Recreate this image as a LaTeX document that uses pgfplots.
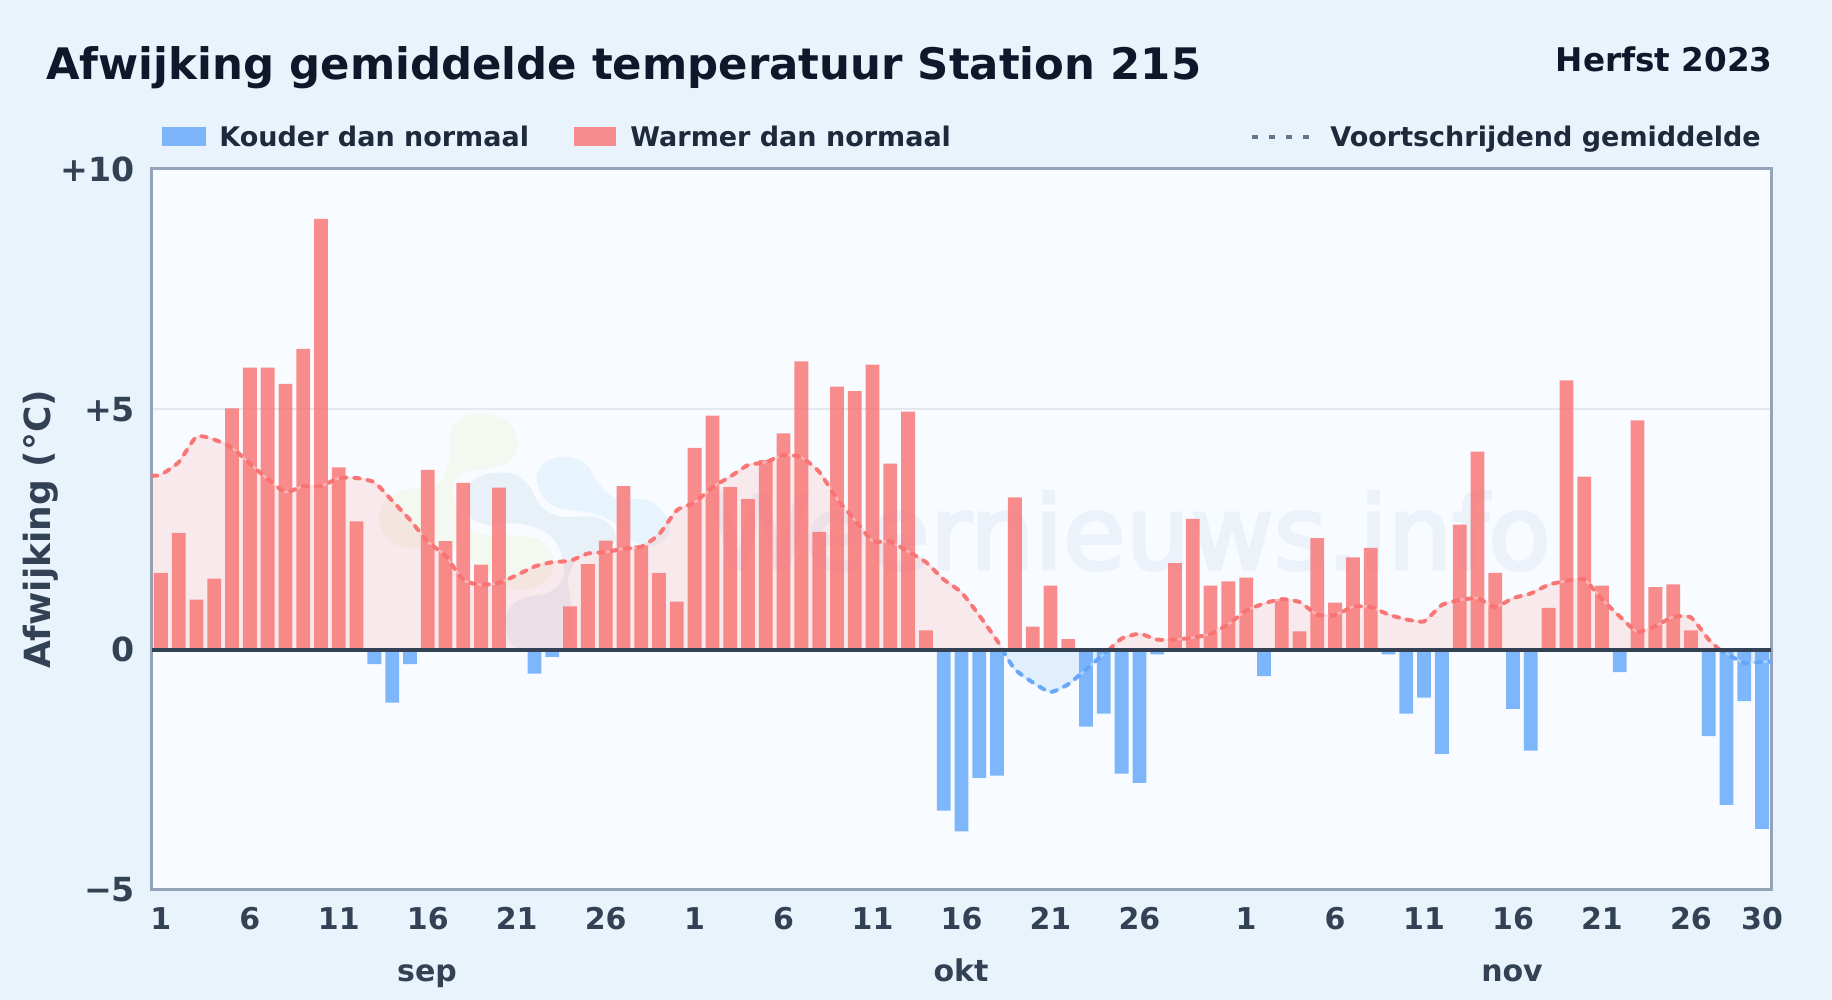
\documentclass[border=0pt]{standalone}
\usepackage{fontspec}
\setmainfont{DejaVu Sans}
\newfontfamily\wmfont[FakeBold=3]{DejaVu Sans}
\usepackage{pgfplots}
\pgfplotsset{compat=1.18}
\usepackage{pgfplotstable}

\definecolor{pagebg}{HTML}{E9F3FC}
\definecolor{plotbg}{HTML}{F8FBFF}
\definecolor{framecol}{HTML}{94A3B8}
\definecolor{gridcol}{HTML}{E2E8F0}
\definecolor{titlecol}{HTML}{0F172A}
\definecolor{legcol}{HTML}{1E293B}
\definecolor{labcol}{HTML}{334155}
\definecolor{dotcol}{HTML}{64748B}
\definecolor{warm}{HTML}{F87171}
\definecolor{cold}{HTML}{60A5FA}
\definecolor{wmcol}{HTML}{EBF2FA}
\definecolor{blobgreen}{HTML}{F3F8F0}
\definecolor{blobgrey}{HTML}{E8F0F8}
\definecolor{blobblue}{HTML}{E8F4FD}

% day index (0 = 1 sep, 30 = 1 okt, 61 = 1 nov), deviation
\pgfplotstableread{
x y
0 1.60
1 2.43
2 1.04
3 1.48
4 5.02
5 5.87
6 5.87
7 5.53
8 6.26
9 8.96
10 3.79
11 2.67
15 3.74
16 2.26
17 3.47
18 1.77
19 3.37
23 0.90
24 1.78
25 2.27
26 3.40
27 2.17
28 1.60
29 1.00
30 4.20
31 4.87
32 3.38
33 3.13
34 3.95
35 4.50
36 6.00
37 2.45
38 5.47
39 5.38
40 5.93
41 3.87
42 4.95
43 0.40
48 3.17
49 0.48
50 1.33
51 0.22
57 1.80
58 2.72
59 1.33
60 1.42
61 1.50
63 1.05
64 0.38
65 2.32
66 0.98
67 1.92
68 2.12
73 2.60
74 4.12
75 1.60
78 0.87
79 5.60
80 3.60
81 1.33
83 4.77
84 1.30
85 1.36
86 0.40
}\warmbars

\pgfplotstableread{
x y
12 -0.30
13 -1.10
14 -0.30
21 -0.50
22 -0.15
44 -3.35
45 -3.78
46 -2.67
47 -2.62
52 -1.60
53 -1.33
54 -2.58
55 -2.77
56 -0.10
62 -0.55
69 -0.10
70 -1.33
71 -1.00
72 -2.17
76 -1.23
77 -2.10
82 -0.47
87 -1.80
88 -3.23
89 -1.07
90 -3.73
}\coldbars

% moving average, split where it crosses zero
\pgfplotstableread{
x y
-0.5 3.62
0 3.64
1 3.90
2 4.43
3 4.37
4 4.20
5 3.87
6 3.55
7 3.28
8 3.40
9 3.40
10 3.57
11 3.57
12 3.48
13 3.10
14 2.70
15 2.25
16 1.95
17 1.45
18 1.35
19 1.39
20 1.55
21 1.73
22 1.82
23 1.85
24 2.00
25 2.03
26 2.10
27 2.14
28 2.40
29 2.90
30 3.06
31 3.38
32 3.60
33 3.84
34 3.90
35 4.05
36 4.00
37 3.70
38 3.14
39 2.70
40 2.26
41 2.25
42 2.04
43 1.82
44 1.46
45 1.19
46 0.71
47 0.19
47.3 0
}\avgA
\pgfplotstableread{
x y
47.3 0
48 -0.41
49 -0.68
50 -0.88
51 -0.72
52 -0.41
53 -0.09
53.3 0
}\avgB
\pgfplotstableread{
x y
53.3 0
54 0.23
55 0.33
56 0.21
57 0.21
58 0.25
59 0.33
60 0.53
61 0.81
62 0.96
63 1.05
64 0.99
65 0.73
66 0.72
67 0.89
68 0.89
69 0.73
70 0.63
71 0.59
72 0.93
73 1.03
74 1.07
75 0.89
76 1.07
77 1.17
78 1.35
79 1.43
80 1.46
81 1.05
82 0.69
83 0.37
84 0.49
85 0.68
86 0.67
87 0.21
87.6 0
}\avgC
\pgfplotstableread{
x y
87.6 0
88 -0.08
89 -0.28
90 -0.25
90.5 -0.25
}\avgD

\pgfplotsset{
  avgfill/.style={draw=none,fill=#1,smooth,tension=0.35,sharp plot},
  avghalo/.style={sharp plot,smooth,tension=0.35,color=#1!30!white,opacity=0.55,line width=1.2pt},
  avgline/.style={sharp plot,smooth,tension=0.35,color=#1,opacity=0.95,line width=2pt,line cap=round,dash pattern=on 2.6pt off 4.1pt},
}

\begin{document}
\begin{tikzpicture}[x=1pt,y=1pt]
  \useasboundingbox (0,0) rectangle (916,500);
  \fill[pagebg] (0,0) rectangle (916,500);
  \fill[plotbg] (76,55) rectangle (885.5,415.5);

  % logo and watermark behind the plot
  \begin{scope}[shift={(180,305)},x=0.16667pt,y=-0.16667pt]
    \fill[blobgreen] plot[smooth cycle,tension=0.6] coordinates {(268,140) (295,90) (370,70) (445,95) (472,155) (455,210) (390,235) (320,245) (278,290) (300,370) (345,430) (450,435) (540,450) (580,505) (565,565) (500,600) (440,590) (400,560) (330,500) (240,470) (150,475) (85,450) (58,390) (75,335) (140,298) (230,285) (265,220) (270,175)};
    \fill[blobblue] plot[smooth cycle,tension=0.6] coordinates {(530,260) (560,215) (620,200) (680,225) (715,280) (770,325) (860,330) (920,380) (925,430) (880,470) (830,460) (765,400) (700,370) (600,355) (550,320)};
    \fill[blobgrey] plot[smooth cycle,tension=0.6] coordinates {(325,290) (370,255) (450,250) (505,285) (540,345) (600,380) (700,380) (755,410) (765,455) (720,480) (660,500) (625,560) (630,620) (640,720) (610,775) (470,775) (440,720) (445,660) (490,625) (570,605) (610,560) (600,480) (555,425) (470,400) (390,405) (335,385) (320,330)};
  \end{scope}
  \node[anchor=base,font=\wmfont\fontsize{51}{51}\selectfont,text=wmcol,inner sep=0] at (565,215.5) {Weernieuws.info};

  \node[anchor=west,font=\bfseries\fontsize{21.7}{21.7}\selectfont,text=titlecol,inner sep=0] at (23,466.25)
    {Afwijking gemiddelde temperatuur Station 215};
  \node[anchor=east,font=\bfseries\fontsize{16.3}{16.3}\selectfont,text=titlecol,inner sep=0] at (886.5,470.5)
    {Herfst 2023};

  % legend
  \fill[cold,opacity=0.8] (81,427) rectangle (103,436.5);
  \node[anchor=base west,font=\bfseries\fontsize{13.5}{13.5}\selectfont,text=legcol,inner sep=0] at (109.5,426.5) {Kouder dan normaal};
  \fill[warm,opacity=0.8] (287,427) rectangle (308,436.5);
  \node[anchor=base west,font=\bfseries\fontsize{13.5}{13.5}\selectfont,text=legcol,inner sep=0] at (315,426.5) {Warmer dan normaal};
  \draw[dotcol,line width=2pt,dash pattern=on 2.8pt off 5.7pt] (626,431.5) -- (654.4,431.5);
  \node[anchor=base west,font=\bfseries\fontsize{13.5}{13.5}\selectfont,text=legcol,inner sep=0] at (665,426.5) {Voortschrijdend gemiddelde};

  \begin{axis}[
    at={(76pt,55pt)},
    anchor=south west,
    scale only axis,
    width=809.5pt,
    height=360.5pt,
    xmin=-0.5, xmax=90.5,
    ymin=-5, ymax=10,
    clip=true,
    axis line style={framecol,line width=1.5pt},
    xtick={0,5,10,15,20,25,30,35,40,45,50,55,61,66,71,76,81,86,90},
    xticklabels={1,6,11,16,21,26,1,6,11,16,21,26,1,6,11,16,21,26,30},
    ytick={-5,0,5,10},
    yticklabels={−5,0,+5,+10},
    major tick length=0pt,
    xticklabel style={font=\bfseries\fontsize{15}{15}\selectfont,text=labcol,yshift=-5.3pt},
    yticklabel style={font=\bfseries\fontsize{16.6}{16.6}\selectfont,text=labcol,xshift=-5pt},
    ymajorgrids,
    grid style={gridcol,line width=1pt},
    ylabel={Afwijking (°C)},
    every axis y label/.style={at={(axis description cs:-0.069,0.5)},rotate=90,anchor=center,
      font=\bfseries\fontsize{18}{18}\selectfont,text=labcol},
    ybar,
    bar width=6.9pt,
    /pgf/bar shift=0pt,
  ]
    \addplot[avgfill=warm,fill opacity=0.13] table {\avgA} \closedcycle;
    \addplot[avgfill=cold,fill opacity=0.15] table {\avgB} \closedcycle;
    \addplot[avgfill=warm,fill opacity=0.13] table {\avgC} \closedcycle;
    \addplot[avgfill=cold,fill opacity=0.15] table {\avgD} \closedcycle;

    \addplot[ybar,draw=none,fill=warm,fill opacity=0.8] table {\warmbars};
    \addplot[ybar,draw=none,fill=cold,fill opacity=0.8] table {\coldbars};

    \addplot[avghalo=warm] table {\avgA};
    \addplot[avghalo=cold] table {\avgB};
    \addplot[avghalo=warm] table {\avgC};
    \addplot[avghalo=cold] table {\avgD};

    \addplot[avgline=warm] table {\avgA};
    \addplot[avgline=cold] table {\avgB};
    \addplot[avgline=warm] table {\avgC};
    \addplot[avgline=cold] table {\avgD};

    \addplot[sharp plot,color=labcol,line width=2pt] coordinates {(-0.5,0) (90.5,0)};
  \end{axis}

  \node[anchor=base,font=\bfseries\fontsize{15}{15}\selectfont,text=labcol,inner sep=0] at (213.5,9.1) {sep};
  \node[anchor=base,font=\bfseries\fontsize{15}{15}\selectfont,text=labcol,inner sep=0] at (480.5,9.1) {okt};
  \node[anchor=base,font=\bfseries\fontsize{15}{15}\selectfont,text=labcol,inner sep=0] at (756,9.1) {nov};
\end{tikzpicture}
\end{document}
